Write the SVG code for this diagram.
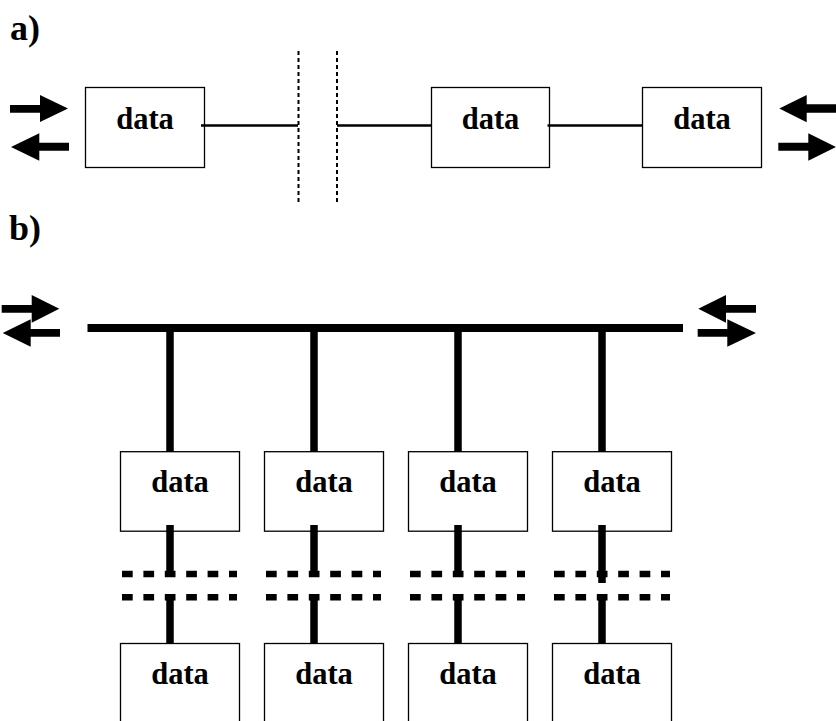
<svg xmlns="http://www.w3.org/2000/svg" width="836" height="721" viewBox="0 0 836 721">
<style>
.box{fill:#fff;stroke:#000;stroke-width:1.3}
.t{font-family:"Liberation Serif","Times New Roman",serif;font-weight:bold;font-size:30.5px;text-anchor:middle;fill:#000}
.lbl{font-family:"Liberation Serif","Times New Roman",serif;font-weight:bold;font-size:36px;fill:#000}
.thin{stroke:#000;stroke-width:2.3;fill:none}
.dot{stroke:#000;stroke-width:2;stroke-dasharray:4 3;fill:none}
.bus{stroke:#000;stroke-width:8;fill:none}
.drop{stroke:#000;stroke-width:7.5;fill:none}
.dash{stroke:#000;stroke-width:6.5;stroke-dasharray:10.7 10.7;fill:none}
.arr{fill:#000}
</style>
<rect width="836" height="721" fill="#fff"/>
<text class="lbl" x="10" y="40">a)</text>
<text class="lbl" x="9" y="240">b)</text>

<g id="a1"><rect class="box" x="85.5" y="87.5" width="119" height="80"/><text class="t" x="145" y="129">data</text></g>
<g id="a2"><rect class="box" x="431.5" y="87.5" width="118" height="80"/><text class="t" x="490.5" y="129">data</text></g>
<g id="a3"><rect class="box" x="642.5" y="87.5" width="119" height="80"/><text class="t" x="702" y="129">data</text></g>

<g id="b1"><rect class="box" x="120.5" y="451.7" width="119" height="79.5"/><text class="t" x="180" y="492.3">data</text></g>
<g id="b2"><rect class="box" x="264.5" y="451.7" width="119" height="79.5"/><text class="t" x="324" y="492.3">data</text></g>
<g id="b3"><rect class="box" x="408.5" y="451.7" width="119" height="79.5"/><text class="t" x="468" y="492.3">data</text></g>
<g id="b4"><rect class="box" x="552.5" y="451.7" width="119" height="79.5"/><text class="t" x="612" y="492.3">data</text></g>

<g id="c1"><rect class="box" x="120.5" y="643.5" width="119" height="90"/><text class="t" x="180" y="683.5">data</text></g>
<g id="c2"><rect class="box" x="264.5" y="643.5" width="119" height="90"/><text class="t" x="324" y="683.5">data</text></g>
<g id="c3"><rect class="box" x="408.5" y="643.5" width="119" height="90"/><text class="t" x="468" y="683.5">data</text></g>
<g id="c4"><rect class="box" x="552.5" y="643.5" width="119" height="90"/><text class="t" x="612" y="683.5">data</text></g>

<g id="connectors">
  <line class="thin" x1="201" y1="125.5" x2="298" y2="125.5"/>
  <line class="thin" x1="337" y1="125.5" x2="431.5" y2="125.5"/>
  <line class="thin" x1="547.5" y1="125.5" x2="642.5" y2="125.5"/>
  <line class="dot" x1="298.5" y1="51" x2="298.5" y2="205"/>
  <line class="dot" x1="337" y1="51" x2="337" y2="205"/>
  <line class="bus" x1="87.5" y1="328" x2="683" y2="328"/>
  <line class="drop" x1="170" y1="332" x2="170" y2="452"/>
  <line class="drop" x1="314" y1="332" x2="314" y2="452"/>
  <line class="drop" x1="458" y1="332" x2="458" y2="452"/>
  <line class="drop" x1="602" y1="332" x2="602" y2="452"/>
  <line class="drop" x1="170" y1="525" x2="170" y2="577"/>
  <line class="drop" x1="314" y1="525" x2="314" y2="577"/>
  <line class="drop" x1="458" y1="525" x2="458" y2="577"/>
  <line class="drop" x1="602" y1="525" x2="602" y2="583"/>
  <line class="drop" x1="170" y1="594" x2="170" y2="644"/>
  <line class="drop" x1="314" y1="594" x2="314" y2="644"/>
  <line class="drop" x1="458" y1="594" x2="458" y2="644"/>
  <line class="drop" x1="602" y1="594" x2="602" y2="644"/>
  <g>
    <line class="dash" x1="122" y1="574" x2="237" y2="574"/>
    <line class="dash" x1="122" y1="597.3" x2="237" y2="597.3"/>
    <line class="dash" x1="266" y1="574" x2="381" y2="574"/>
    <line class="dash" x1="266" y1="597.3" x2="381" y2="597.3"/>
    <line class="dash" x1="410" y1="574" x2="525" y2="574"/>
    <line class="dash" x1="410" y1="597.3" x2="525" y2="597.3"/>
    <line class="dash" x1="554" y1="574" x2="670" y2="574"/>
    <line class="dash" x1="554" y1="597.3" x2="670" y2="597.3"/>
  </g>
  <path class="arr" d="M10,105 H40 V95 L68,108.5 L40,122 V112.7 H10 Z"/>
  <path class="arr" d="M11,147 L39.3,133.3 V142.7 H69 V150.7 H39.3 V160.7 Z"/>
  <path class="arr" d="M779.3,108.5 L806.7,95 V104.3 H836 V112.7 H806.7 V122.3 Z"/>
  <path class="arr" d="M778.3,142.7 H808.3 V133.3 L836,147 L808.3,160.7 V150.7 H778.3 Z"/>
  <path class="arr" d="M1.7,305 H31.7 V295 L59.3,308.8 L31.7,322.7 V312.7 H1.7 Z"/>
  <path class="arr" d="M2.7,333 L30.7,319.3 V329 H60 V336.7 H30.7 V346.7 Z"/>
  <path class="arr" d="M698.3,308.8 L726,295 V305 H756 V312.7 H726 V322.7 Z"/>
  <path class="arr" d="M697.7,329 H727.3 V319.3 L756,333 L727.3,346.7 V336.7 H697.7 Z"/>
</g>
</svg>
